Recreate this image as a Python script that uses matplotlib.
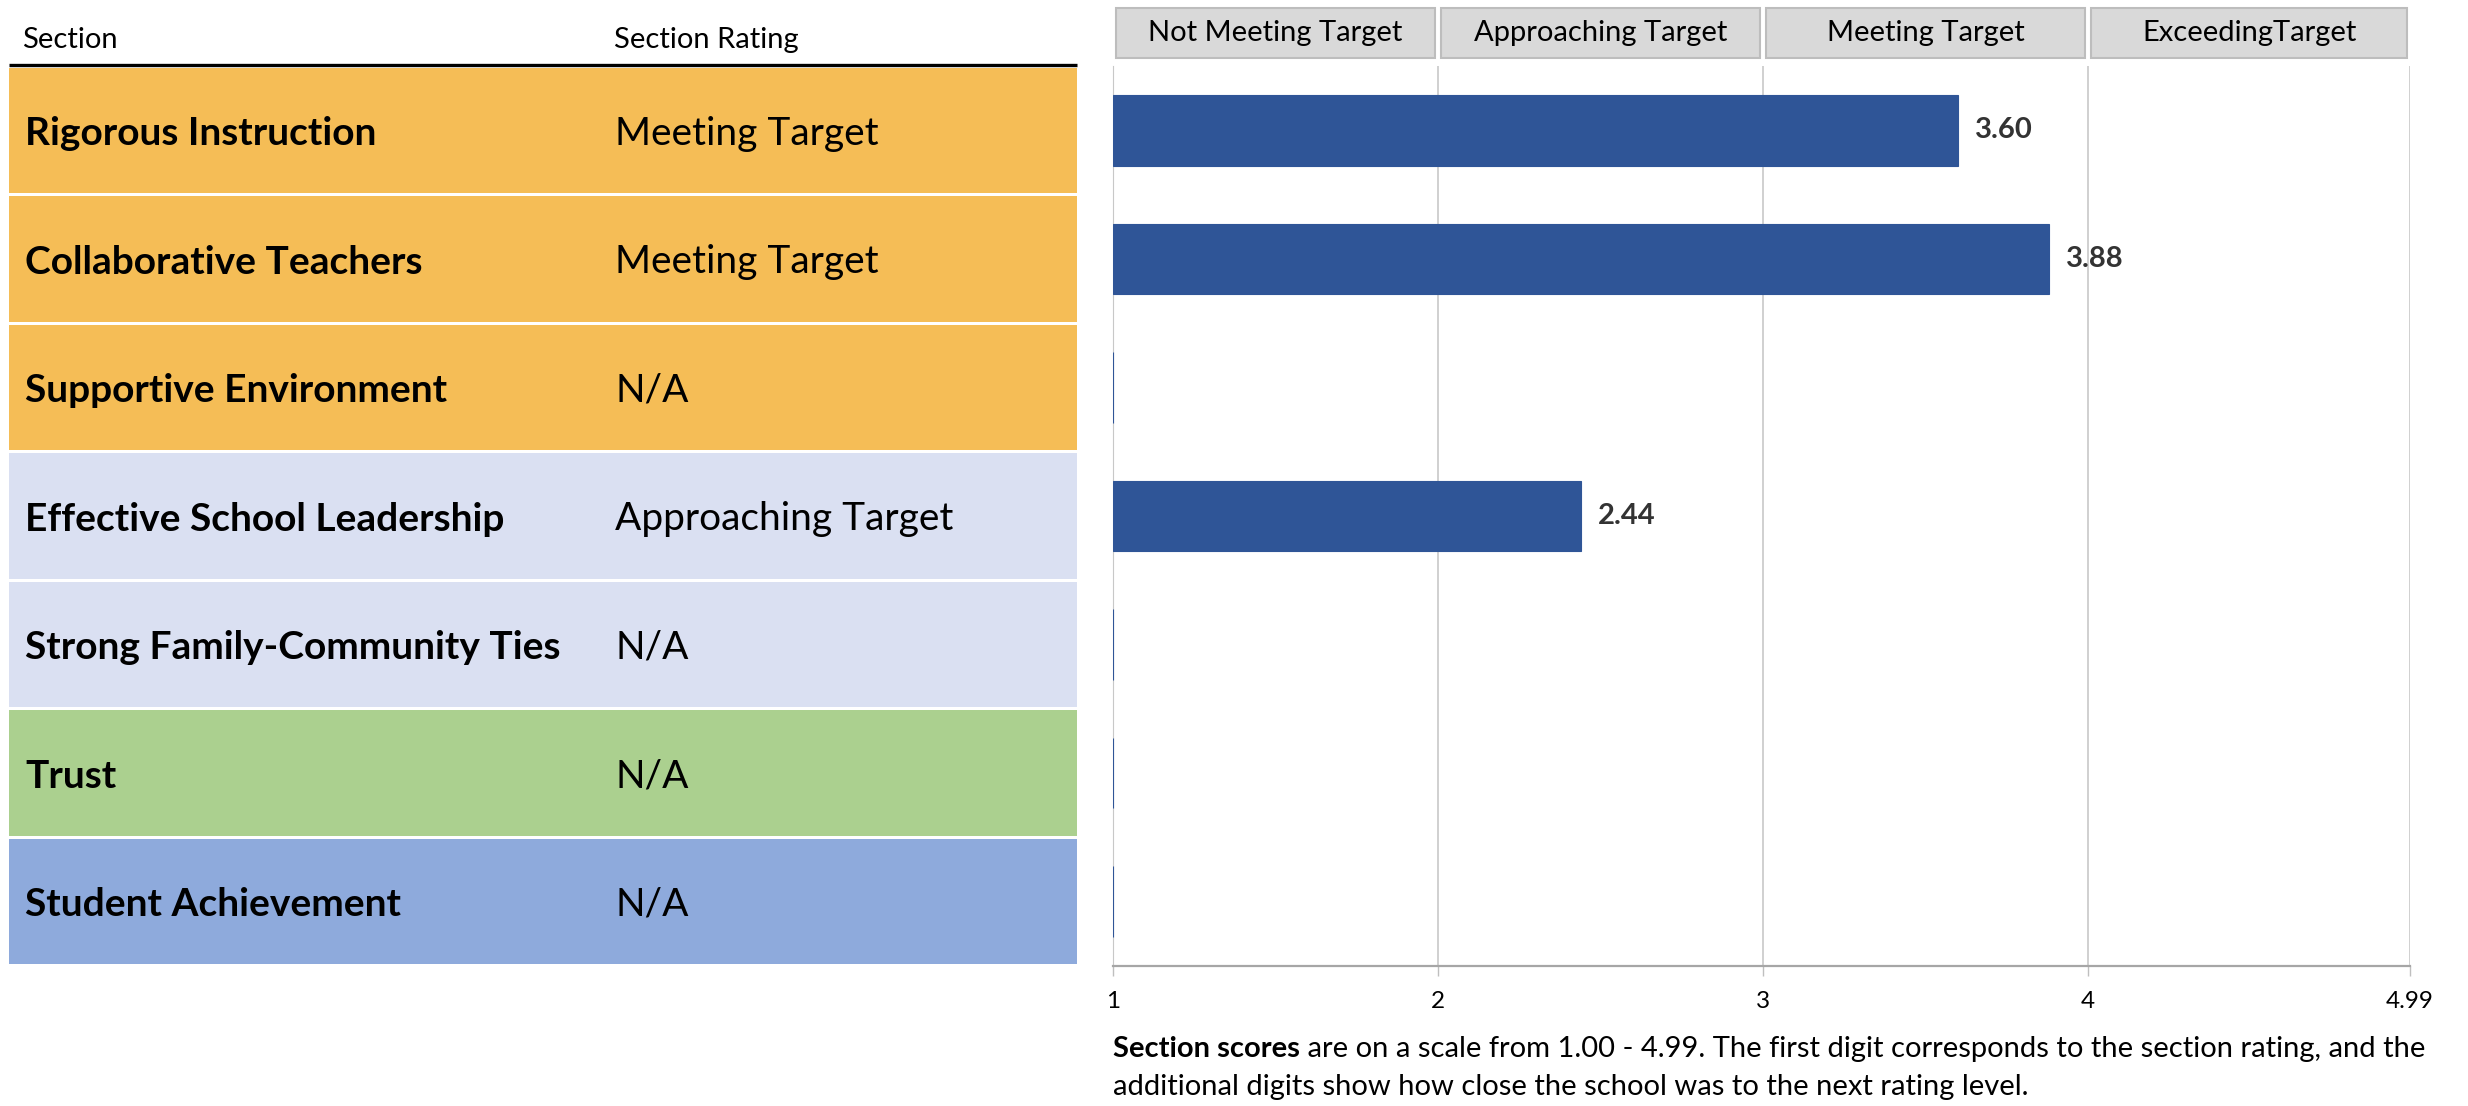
import matplotlib
matplotlib.use("Agg")
import matplotlib.pyplot as plt
from matplotlib.patches import Rectangle
import matplotlib.transforms as mtransforms

plt.rcParams['font.family'] = ['Lato', 'DejaVu Sans']

# data
sections = ['Rigorous Instruction', 'Collaborative Teachers', 'Supportive Environment',
            'Effective School Leadership', 'Strong Family-Community Ties', 'Trust',
            'Student Achievement']
ratings = ['Meeting Target', 'Meeting Target', 'N/A', 'Approaching Target', 'N/A', 'N/A', 'N/A']
scores = [3.60, 3.88, None, 2.44, None, None, None]
row_colors = ['#F5BD56', '#F5BD56', '#F5BD56', '#DAE0F2', '#DAE0F2', '#ABD08F', '#8EAADC']
levels = ['Not Meeting Target', 'Approaching Target', 'Meeting Target', 'ExceedingTarget']
level_edges = [1, 2, 3, 4, 4.99]
tick_vals = [1, 2, 3, 4, 4.99]
tick_labels = ['1', '2', '3', '4', '4.99']

W, H = 2468, 1106
fig = plt.figure(figsize=(W / 100, H / 100), dpi=100)

top_px, bot_px = 66, 966
ax_b = 1 - bot_px / H
ax_h = (bot_px - top_px) / H

# ---- left table ----
tab = fig.add_axes([9 / W, ax_b, (1077 - 9) / W, ax_h])
tab.set_xlim(0, 1)
tab.set_ylim(len(sections) - 0.5, -0.5)
tab.axis('off')
gap = 0.012
for i, (sec, rat, col) in enumerate(zip(sections, ratings, row_colors)):
    tab.add_patch(Rectangle((0, i - 0.5 + gap), 1, 1 - 2 * gap, color=col, lw=0))
    tab.text(16 / 1068, i + 0.025, sec, fontsize=28, fontweight='bold', va='center', ha='left')
    tab.text(606 / 1068, i + 0.025, rat, fontsize=28, va='center', ha='left')
tab.plot([0, 1], [-0.5 - 0.01, -0.5 - 0.01], color='black', lw=2.4, clip_on=False,
         solid_capstyle='butt')
tab.text(13 / 1068, -0.70, 'Section', fontsize=21, va='center', ha='left')
tab.text(605 / 1068, -0.70, 'Section Rating', fontsize=21, va='center', ha='left')

# ---- right bar chart ----
ax = fig.add_axes([1113 / W, ax_b, (2410 - 1113) / W, ax_h])
ypos = list(range(len(sections)))
widths = [(s - 1) if s is not None else 0 for s in scores]
ax.barh(ypos, widths, left=1, height=0.55, color='#2F5597', edgecolor='#2F5597', lw=0.8,
        zorder=3)
for y, s in zip(ypos, scores):
    if s is not None:
        ax.annotate(f'{s:.2f}', xy=(s, y), xytext=(12, 0), textcoords='offset points',
                    fontsize=21, fontweight='bold', va='center', ha='left', color='#333333')
ax.set_xlim(1, 4.99)
ax.set_ylim(len(sections) - 0.5, -0.5)
ax.set_yticks([])
ax.set_xticks(tick_vals)
ax.set_xticklabels(tick_labels, fontsize=17.5)
ax.tick_params(axis='x', length=7, width=1, color='#BFBFBF', pad=11)
ax.grid(axis='x', color='#C8C8C8', lw=1.2, zorder=0)
for side in ['top', 'right']:
    ax.spines[side].set_visible(False)
ax.spines['left'].set_color('#C8C8C8')
ax.spines['bottom'].set_color('#A6A6A6')
ax.spines['bottom'].set_linewidth(1.6)

# rating level boxes above the chart
trans = mtransforms.blended_transform_factory(ax.transData, ax.transAxes)
box_lo = (bot_px - 58) / (bot_px - top_px)
box_hi = (bot_px - 8) / (bot_px - top_px)
for lab, x0, x1 in zip(levels, level_edges[:-1], level_edges[1:]):
    ax.add_patch(Rectangle((x0 + 0.01, box_lo), (x1 - x0) - 0.02, box_hi - box_lo,
                           transform=trans, facecolor='#D9D9D9', edgecolor='#BDBDBD',
                           lw=1.5, clip_on=False))
    ax.text((x0 + x1) / 2, (box_lo + box_hi) / 2, lab, transform=trans, fontsize=21,
            ha='center', va='center')

# footnote
fn1 = ax.text(0, -(1049 - bot_px) / (bot_px - top_px), 'Section scores', transform=ax.transAxes,
              fontsize=21, fontweight='bold', ha='left', va='center')
ax.annotate(' are on a scale from 1.00 - 4.99. The first digit corresponds to the section rating, and the',
            xy=(1, 0), xycoords=fn1, fontsize=21, ha='left', va='bottom')
ax.text(0, -(1087 - bot_px) / (bot_px - top_px),
        'additional digits show how close the school was to the next rating level.',
        transform=ax.transAxes, fontsize=21, ha='left', va='center')

fig.savefig('out.png', dpi=100)
